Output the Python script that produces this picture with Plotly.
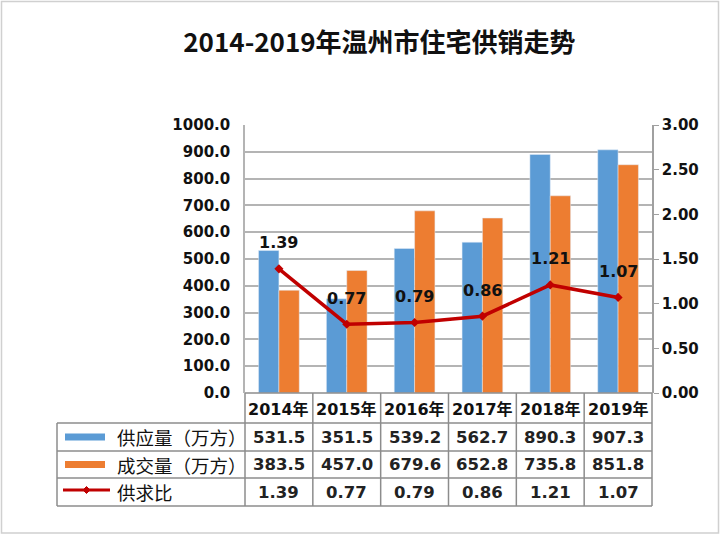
import plotly.graph_objects as go

years = ["2014年", "2015年", "2016年", "2017年", "2018年", "2019年"]
supply = [531.5, 351.5, 539.2, 562.7, 890.3, 907.3]
deal = [383.5, 457.0, 679.6, 652.8, 735.8, 851.8]
ratio = [1.39, 0.77, 0.79, 0.86, 1.21, 1.07]
row_names = ["供应量（万方）", "成交量（万方）", "供求比"]

BLUE = "#5B9BD5"
ORANGE = "#ED7D31"
RED = "#C00000"
GRID = "#B4B4B4"
BORDER = "#8C8C8C"
NUM_FONT = "DejaVu Sans, Noto Sans CJK SC"
CJK_FONT = "Noto Sans CJK SC"

fig = go.Figure()
fig.add_bar(x=years, y=supply, name=row_names[0], marker_color=BLUE, showlegend=False)
fig.add_bar(x=years, y=deal, name=row_names[1], marker_color=ORANGE, showlegend=False)
fig.add_scatter(x=years, y=ratio, yaxis="y2", mode="lines+markers", name=row_names[2],
                line=dict(color=RED, width=3.5),
                marker=dict(symbol="diamond", size=7, color=RED), showlegend=False)

# pixel helpers (plot area: x 245..652, y 125..393)
def px(xp):
    return (xp - 245) / 407.0

def py(yp):
    return (393 - yp) / 268.0

ann = []
# line data labels
for yr, r in zip(years, ratio):
    ann.append(dict(x=yr, y=r, xref="x", yref="y2", text=f"<b>{r:.2f}</b>", showarrow=False,
                    yshift=26, font=dict(family=NUM_FONT, size=16, color="#111111")))

# table geometry
rows_y = [423, 451, 478, 506]
header_top = 393
shapes = []
# outer image frame
shapes.append(dict(type="rect", xref="paper", yref="paper", x0=px(1.5), x1=px(718.5), y0=py(533), y1=py(1.5),
                   line=dict(color="#D0D0D0", width=1.5), layer="below"))
# header row cells (years)
shapes.append(dict(type="line", xref="paper", yref="paper", x0=px(245), x1=px(652), y0=py(header_top), y1=py(header_top),
                   line=dict(color=BORDER, width=1.5)))
for k in range(7):
    xk = px(245) + k / 6.0
    shapes.append(dict(type="line", xref="paper", yref="paper", x0=xk, x1=xk, y0=py(header_top), y1=py(rows_y[-1]),
                       line=dict(color=BORDER, width=1.5)))
# horizontal row lines
for yy in rows_y:
    shapes.append(dict(type="line", xref="paper", yref="paper", x0=px(57), x1=px(652), y0=py(yy), y1=py(yy),
                       line=dict(color=BORDER, width=1.5)))
# left border of table
shapes.append(dict(type="line", xref="paper", yref="paper", x0=px(57), x1=px(57), y0=py(rows_y[0]), y1=py(rows_y[-1]),
                   line=dict(color=BORDER, width=1.5)))

# legend keys
shapes.append(dict(type="rect", xref="paper", yref="paper", x0=px(65), x1=px(105), y0=py(440.5), y1=py(433.5),
                   fillcolor=BLUE, line=dict(width=0)))
shapes.append(dict(type="rect", xref="paper", yref="paper", x0=px(65), x1=px(105), y0=py(468), y1=py(461),
                   fillcolor=ORANGE, line=dict(width=0)))
shapes.append(dict(type="line", xref="paper", yref="paper", x0=px(63), x1=px(110), y0=py(490), y1=py(490),
                   line=dict(color=RED, width=3)))
shapes.append(dict(type="path", xref="paper", yref="paper",
                   path=f"M {px(86.5)},{py(486.5)} L {px(90)},{py(490)} L {px(86.5)},{py(493.5)} L {px(83)},{py(490)} Z",
                   fillcolor=RED, line=dict(color=RED, width=1)))

# row names
for i, name in enumerate(row_names):
    yc = (rows_y[i] + rows_y[i + 1]) / 2.0
    ann.append(dict(x=px(115), y=py(yc), xref="paper", yref="paper", text=name, showarrow=False,
                    xanchor="left", yanchor="middle", font=dict(family=CJK_FONT, size=18.5, color="#111111")))

# year header
for yr in years:
    ann.append(dict(x=yr, y=py((header_top + rows_y[0]) / 2.0 + 1), xref="x", yref="paper", text=f"<b>{yr}</b>",
                    showarrow=False, yanchor="middle", font=dict(family=NUM_FONT, size=16, color="#111111")))

# table values
table_rows = [[f"{v:.1f}" for v in supply], [f"{v:.1f}" for v in deal], [f"{v:.2f}" for v in ratio]]
for i, vals in enumerate(table_rows):
    yc = (rows_y[i] + rows_y[i + 1]) / 2.0
    for yr, t in zip(years, vals):
        ann.append(dict(x=yr, y=py(yc), xref="x", yref="paper", text=f"<b>{t}</b>", showarrow=False,
                        yanchor="middle", font=dict(family=NUM_FONT, size=16.5, color="#222222")))

fig.update_layout(
    width=720, height=536,
    margin=dict(l=245, r=68, t=125, b=143),
    paper_bgcolor="white", plot_bgcolor="white",
    barmode="group", bargap=0.4, bargroupgap=0.0,
    title=dict(text="<b>2014-2019年温州市住宅供销走势</b>", x=0.527, xanchor="center", y=1 - 43 / 536,
               yanchor="middle", yref="container", font=dict(family=CJK_FONT, size=26, color="#111111")),
    xaxis=dict(showticklabels=False, ticks="", showgrid=False, showline=False, zeroline=False),
    yaxis=dict(range=[0, 1000], dtick=100, tickformat=".1f", showgrid=True, gridcolor=GRID, gridwidth=1.5,
               showline=True, linecolor=GRID, linewidth=1.5, zeroline=False, ticks="",
               tickfont=dict(family=NUM_FONT, size=15, color="#111111"), ticklabelstandoff=10,
               tickprefix="<b>", ticksuffix="</b>"),
    yaxis2=dict(range=[0, 3], dtick=0.5, tickformat=".2f", overlaying="y", side="right", showgrid=False,
                showline=True, linecolor="#A0A0A0", linewidth=1.5, ticks="outside", ticklen=5, tickcolor="#A0A0A0",
                zeroline=False, tickfont=dict(family=NUM_FONT, size=15, color="#111111"),
                tickprefix="<b>", ticksuffix="</b>"),
    shapes=shapes, annotations=ann,
)

fig.write_html("out.html", config={"displayModeBar": False})

# remove the default browser page margin so the figure sits at the window origin
with open("out.html", "r", encoding="utf-8") as f:
    html = f.read()
html = html.replace("<head>", "<head><style>html,body{margin:0;padding:0;overflow:hidden;}</style>", 1)
with open("out.html", "w", encoding="utf-8") as f:
    f.write(html)
